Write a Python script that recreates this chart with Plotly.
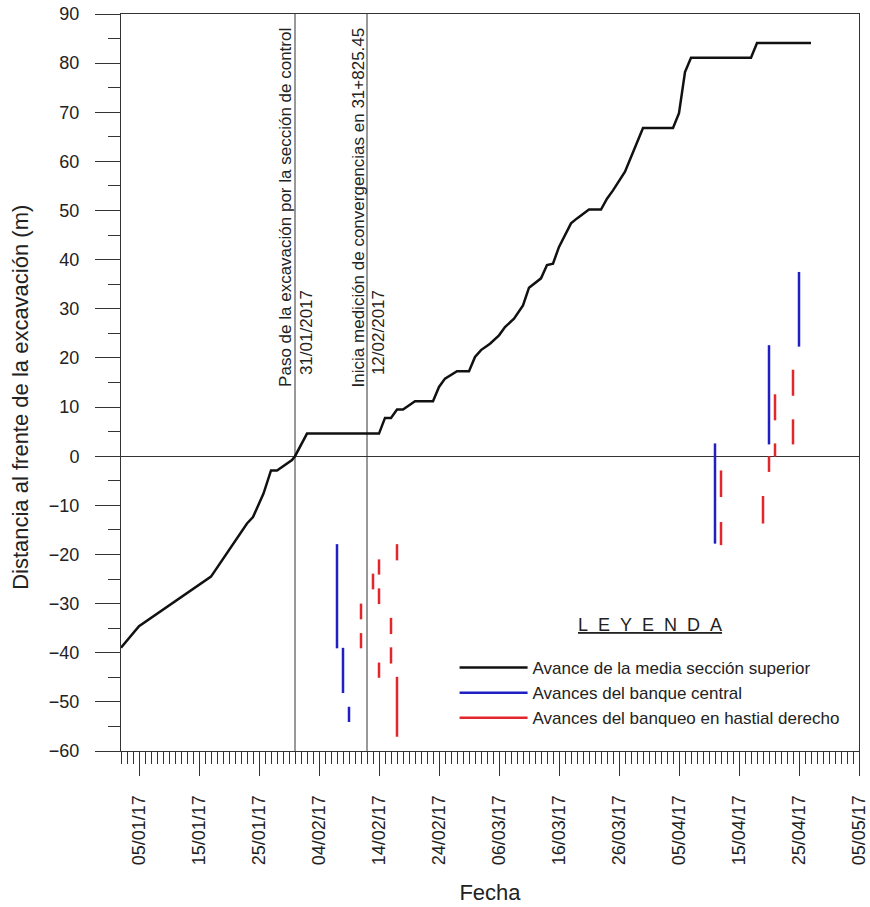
import plotly.graph_objects as go

# ---- data ----
media_dates = ["2017-01-02", "2017-01-05", "2017-01-17", "2017-01-23", "2017-01-24",
               "2017-01-25 18:00", "2017-01-27", "2017-01-28", "2017-01-30 12:00", "2017-01-31",
               "2017-02-02", "2017-02-14", "2017-02-15", "2017-02-16", "2017-02-17",
               "2017-02-18", "2017-02-20", "2017-02-23", "2017-02-24", "2017-02-25",
               "2017-02-27", "2017-03-01", "2017-03-02", "2017-03-03", "2017-03-04 12:00",
               "2017-03-06", "2017-03-07", "2017-03-08 12:00", "2017-03-10", "2017-03-11",
               "2017-03-13", "2017-03-14", "2017-03-15", "2017-03-16", "2017-03-18",
               "2017-03-19", "2017-03-21", "2017-03-23", "2017-03-24", "2017-03-25",
               "2017-03-27", "2017-03-28 12:00", "2017-03-30", "2017-04-04", "2017-04-05",
               "2017-04-06", "2017-04-07", "2017-04-17", "2017-04-18", "2017-04-27"]
media_values = [-39.0, -34.6, -24.5, -13.7, -12.4,
                -7.6, -2.9, -2.9, -0.8, 0.0,
                4.6, 4.6, 7.8, 7.8, 9.5,
                9.5, 11.2, 11.2, 14.1, 15.8,
                17.3, 17.3, 20.2, 21.6, 22.9,
                24.6, 26.3, 28.0, 30.7, 34.3,
                36.2, 38.9, 39.2, 42.6, 47.4,
                48.4, 50.2, 50.2, 52.4, 54.1,
                57.9, 62.3, 66.8, 66.8, 69.8,
                78.2, 81.1, 81.1, 84.1, 84.1]

central_dates = ["2017-02-07", "2017-02-08", "2017-02-09", "2017-04-11", "2017-04-20", "2017-04-25"]
central_top = [-17.9, -39.0, -51.0, 2.6, 22.6, 37.5]
central_bottom = [-39.1, -48.2, -54.1, -17.8, 2.4, 22.3]

hastial_dates = ["2017-02-11", "2017-02-11", "2017-02-13", "2017-02-14", "2017-02-14", "2017-02-14",
                 "2017-02-16", "2017-02-16", "2017-02-17", "2017-02-17",
                 "2017-04-12", "2017-04-12", "2017-04-19", "2017-04-20", "2017-04-21", "2017-04-21",
                 "2017-04-24", "2017-04-24"]
hastial_top = [-30.0, -36.0, -23.9, -21.0, -26.9, -42.0,
               -32.9, -38.9, -17.9, -44.9,
               -2.9, -13.4, -8.1, 0.0, 12.6, 2.6,
               17.6, 7.5]
hastial_bottom = [-33.2, -39.1, -27.1, -24.1, -30.1, -45.1,
                  -36.2, -42.2, -21.2, -57.1,
                  -8.3, -18.1, -13.7, -3.2, 7.3, -0.1,
                  12.3, 2.4]

event_dates = ["2017-01-31", "2017-02-12"]
event_texts = ["Paso de la excavación por la sección de control",
               "Inicia medición de convergencias en 31+825.45"]
event_labels = ["31/01/2017", "12/02/2017"]

legend_names = ["Avance de la media sección superior",
                "Avances del banque central",
                "Avances del banqueo en hastial derecho"]

FONT = "Liberation Sans, Arial, sans-serif"
BLUE = "#1f1fc4"
RED = "#e2262c"


def segments(dates, tops, bottoms):
    xs, ys = [], []
    for d, t, b in zip(dates, tops, bottoms):
        xs += [d, d, None]
        ys += [t, b, None]
    return xs, ys


fig = go.Figure()
fig.add_trace(go.Scatter(x=media_dates, y=media_values, mode="lines",
                         line=dict(color="#111111", width=2.5),
                         name=legend_names[0]))
bx, by = segments(central_dates, central_top, central_bottom)
fig.add_trace(go.Scatter(x=bx, y=by, mode="lines", line=dict(color=BLUE, width=2.5),
                         name=legend_names[1], connectgaps=False))
rx, ry = segments(hastial_dates, hastial_top, hastial_bottom)
fig.add_trace(go.Scatter(x=rx, y=ry, mode="lines", line=dict(color=RED, width=2.5),
                         name=legend_names[2], connectgaps=False))

for d in event_dates:
    fig.add_shape(type="line", xref="x", yref="paper", x0=d, x1=d, y0=0, y1=1,
                  line=dict(color="#333333", width=1), layer="below")

for d, t, lab in zip(event_dates, event_texts, event_labels):
    fig.add_annotation(x=d, xref="x", y=13.6, yref="y", text=t, textangle=-90,
                       showarrow=False, xanchor="center", yanchor="bottom",
                       xshift=-9, font=dict(family=FONT, size=17, color="#222222"))
    fig.add_annotation(x=d, xref="x", y=16.0, yref="y", text=lab, textangle=-90,
                       showarrow=False, xanchor="center", yanchor="bottom",
                       xshift=11, font=dict(family=FONT, size=17, color="#222222"))

fig.add_annotation(x=0.717, xref="paper", y=-34.3, yref="y",
                   text="<u>L\u00a0\u00a0E\u00a0\u00a0Y\u00a0\u00a0E\u00a0\u00a0N\u00a0\u00a0D\u00a0\u00a0A</u>",
                   showarrow=False, xanchor="center", yanchor="middle",
                   font=dict(family=FONT, size=18, color="#222222"))

fig.add_annotation(x=-0.136, xref="paper", y=0.48, yref="paper",
                   text="Distancia al frente de la excavación (m)", textangle=-90,
                   showarrow=False, xanchor="center", yanchor="middle",
                   font=dict(family=FONT, size=22, color="#222222"))

fig.update_layout(
    width=870, height=907,
    margin=dict(l=121, r=11, t=14, b=156, autoexpand=False),
    paper_bgcolor="white", plot_bgcolor="white",
    font=dict(family=FONT, color="#222222"),
    showlegend=True,
    legend=dict(x=0.452, xanchor="left", y=0.137, yanchor="top",
                font=dict(family=FONT, size=17, color="#222222"),
                bgcolor="rgba(0,0,0,0)", itemwidth=68, tracegroupgap=0),
)

fig.update_xaxes(
    type="date", range=["2017-01-02", "2017-05-05"], automargin=False,
    tick0="2017-01-05", dtick=864000000, tickformat="%d/%m/%y", tickangle=-90,
    ticks="outside", ticklen=24, tickwidth=1, tickcolor="#333333",
    minor=dict(dtick=86400000, tick0="2017-01-05", ticks="outside", ticklen=12,
               tickwidth=1, tickcolor="#333333", showgrid=False),
    showline=True, linecolor="#333333", linewidth=1, mirror=True,
    showgrid=False, zeroline=False,
    tickfont=dict(family=FONT, size=18, color="#222222"),
    ticklabelstandoff=12,
    title=dict(text="Fecha", font=dict(family=FONT, size=22, color="#222222"), standoff=20),
)
fig.update_yaxes(
    range=[-60, 90], dtick=10, tick0=0, automargin=False,
    ticks="outside", ticklen=25, tickwidth=1, tickcolor="#333333",
    minor=dict(dtick=5, ticks="outside", ticklen=12, tickwidth=1, tickcolor="#333333",
               showgrid=False),
    showline=True, linecolor="#333333", linewidth=1, mirror=True,
    showgrid=False, zeroline=True, zerolinecolor="#333333", zerolinewidth=1,
    tickfont=dict(family=FONT, size=18, color="#222222"),
    ticklabelstandoff=12,
)

fig.write_html("out.html",
               config={"displayModeBar": False},
               post_script="document.body.style.margin='0px';"
                           "document.body.style.padding='0px';"
                           "document.body.style.overflow='hidden';")
